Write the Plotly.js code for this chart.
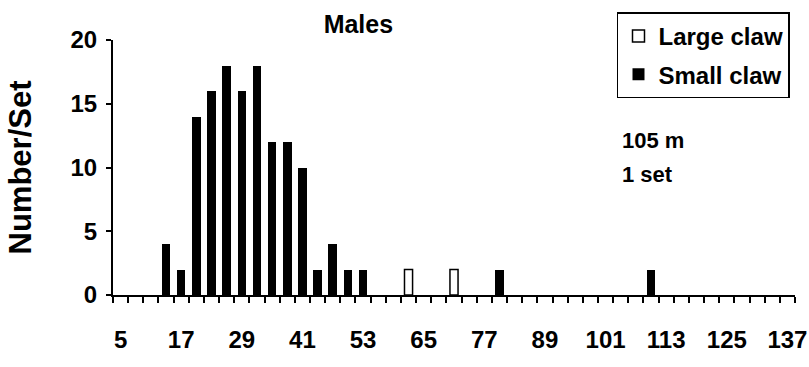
<!DOCTYPE html>
<html>
<head>
<meta charset="utf-8">
<script src="https://cdn.plot.ly/plotly-3.0.1.min.js"></script>
<style>html,body{margin:0;padding:0;background:#fff}#chart{width:809px;height:367px}</style>
</head>
<body>
<div id="chart"></div>
<script>
// Carapace size bins (mm) with bars, and counts per set
const smallClawSizes = [14, 17, 20, 23, 26, 29, 32, 35, 38, 41, 44, 47, 50, 53, 80, 110];
const smallClawCounts = [4, 2, 14, 16, 18, 16, 18, 12, 12, 10, 2, 4, 2, 2, 2, 2];
const largeClawSizes = [62, 71];
const largeClawCounts = [2, 2];
const xTickLabels = [5, 17, 29, 41, 53, 65, 77, 89, 101, 113, 125, 137];
const yTickLabels = [0, 5, 10, 15, 20];

const F = 'Liberation Sans, Arial, sans-serif';
const traces = [
  {type: 'bar', name: 'Large claw', x: largeClawSizes, y: largeClawCounts, width: 1.6,
   marker: {color: '#ffffff', line: {color: '#000', width: 1.5}}, legendgroup: 'a'},
  {type: 'bar', name: 'Small claw', x: smallClawSizes, y: smallClawCounts, width: 1.7,
   marker: {color: '#000000', line: {color: '#000', width: 0}}, legendgroup: 'b'}
];
const layout = {
  width: 809, height: 367,
  margin: {l: 113, r: 14, t: 35, b: 72},
  paper_bgcolor: '#fff', plot_bgcolor: '#fff',
  showlegend: true,
  font: {family: F, color: '#000', size: 24, weight: 'bold'},
  title: {text: 'Males', x: 0.443, xref: 'container', xanchor: 'center', y: 0.935, yref: 'container', yanchor: 'middle',
          font: {family: F, size: 25, weight: 'bold', color: '#000'}},
  xaxis: {range: [3.5, 138.5], tickmode: 'array', tickvals: xTickLabels, ticktext: xTickLabels.map(String),
          ticks: 'outside', ticklen: 0, showgrid: false, zeroline: false, showline: true, linecolor: '#000', linewidth: 2,
          ticklabelstandoff: 22, tickfont: {family: F, size: 24, weight: 'bold'},
          minor: {ticks: 'outside', tick0: 3.5, dtick: 3, ticklen: 6, tickwidth: 2, tickcolor: '#000', showgrid: false}},
  yaxis: {range: [0, 20], tickmode: 'array', tickvals: yTickLabels, ticks: 'outside', ticklen: 5, tickwidth: 2, tickcolor: '#000',
          showgrid: false, zeroline: false, showline: true, linecolor: '#000', linewidth: 2,
          ticklabelstandoff: 4, tickfont: {family: F, size: 24, weight: 'bold'},
          title: {text: 'Number/Set', standoff: 30, font: {family: F, size: 31, weight: 'bold'}}},
  bargap: 0,
  legend: {x: 0.739, xanchor: 'left', y: 1.108, yanchor: 'top', xref: 'paper', yref: 'paper',
           bgcolor: '#fff', bordercolor: '#000', borderwidth: 1.5, tracegroupgap: 4, traceorder: 'grouped',
           font: {family: F, size: 24, weight: 'bold', color: '#000'}},
  annotations: [
    {text: '105 m', xref: 'paper', yref: 'paper', x: 0.744, y: 0.607, xanchor: 'left', yanchor: 'middle', showarrow: false,
     font: {family: F, size: 22, weight: 'bold'}},
    {text: '1 set', xref: 'paper', yref: 'paper', x: 0.744, y: 0.473, xanchor: 'left', yanchor: 'middle', showarrow: false,
     font: {family: F, size: 22, weight: 'bold'}}
  ]
};
Plotly.newPlot('chart', traces, layout, {displayModeBar: false, staticPlot: true});
</script>
</body>
</html>
